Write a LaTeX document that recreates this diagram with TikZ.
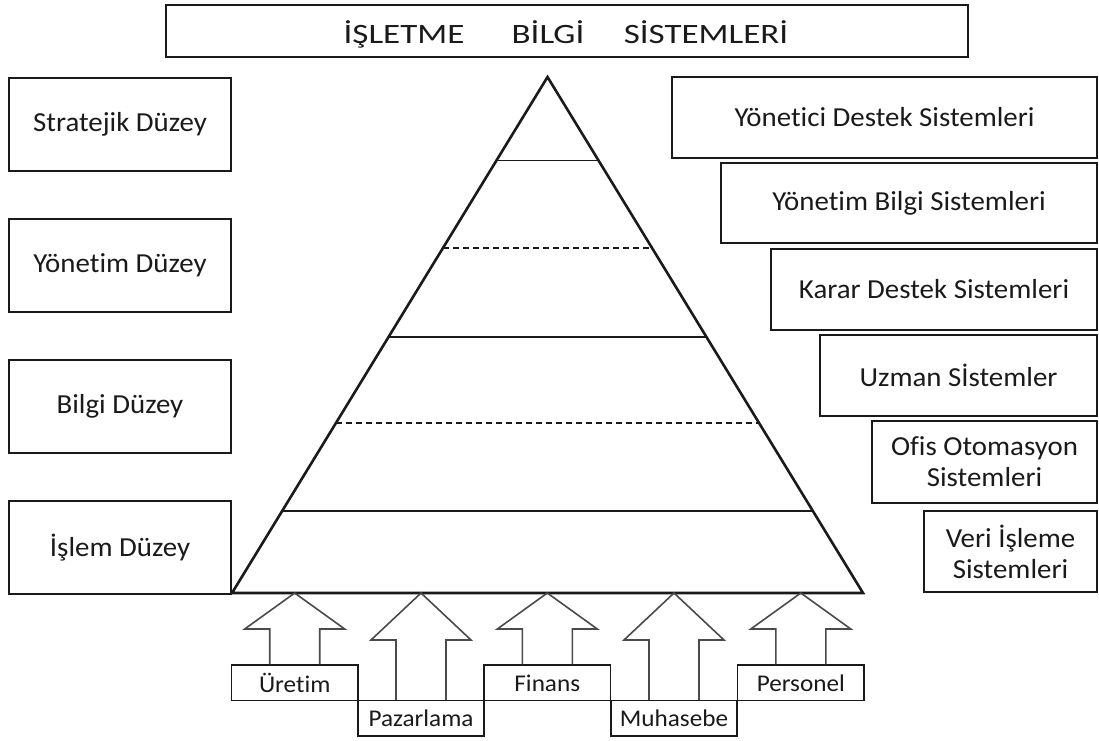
\documentclass[tikz,border=0pt]{standalone}
\usepackage{fontspec}
\setmainfont{Carlito}[FakeStretch=1.05, RawFeature={-liga}]
\newfontfamily\titlefont{Carlito}[FakeStretch=1.25, RawFeature={-liga}]
\usetikzlibrary{calc}

\definecolor{ink}{HTML}{1A1A1A}
\definecolor{arrowgray}{HTML}{4A4A4A}

\tikzset{
  framebox/.style={draw=ink, line width=1.8pt, inner sep=0pt, text=ink,
    align=center, font=\fontsize{27.5}{31}\selectfont},
  deptbox/.style={draw=ink, line width=1.6pt, inner sep=0pt,
    minimum width=126.5pt, minimum height=35.5pt, text=ink,
    font=\fontsize{24}{26}\selectfont},
  titleword/.style={inner sep=0pt, anchor=base, text=ink,
    font=\titlefont\fontsize{28}{32}\selectfont},
  pyramid/.style={draw=ink, line width=2.6pt, line join=miter},
  tiersolid/.style={draw=ink, line width=1.3pt},
  tierdash/.style={draw=ink, line width=1.2pt, dash pattern=on 6pt off 4pt},
  blockarrow/.style={draw=arrowgray, line width=1.6pt, line join=miter},
}

\begin{document}
\begin{tikzpicture}[x=1pt, y=-1pt]
\useasboundingbox (0,0) rectangle (1099,740);

% title
\node[framebox, line width=2.6pt, minimum width=802pt, minimum height=52pt] (title) at (567,31) {};
\node[titleword] (w1) at (404,43) {İŞLETME};
\node[titleword] (w2) at (548,43) {BİLGİ};
\node[titleword] (w3) at (706,43) {SİSTEMLERİ};

% levels on the left
\node[framebox, minimum width=222pt, minimum height=93pt] (strat) at (120,124.5) {Stratejik Düzey};
\node[framebox, minimum width=222pt, minimum height=93pt] (yon)   at (120,265.5) {Yönetim Düzey};
\node[framebox, minimum width=222pt, minimum height=93pt] (bilgi) at (120,406.5) {Bilgi Düzey};
\node[framebox, minimum width=222pt, minimum height=93pt] (islem) at (120,547.5) {İşlem Düzey};

% systems on the right
\node[framebox, minimum width=425pt, minimum height=81pt] (yds) at (884.5,117.5) {Yönetici Destek Sistemleri};
\node[framebox, minimum width=376pt, minimum height=80pt] (ybs) at (909,203)   {Yönetim Bilgi Sistemleri};
\node[framebox, minimum width=326pt, minimum height=81pt] (kds) at (934,289.5) {Karar Destek Sistemleri};
\node[framebox, minimum width=277pt, minimum height=81pt] (uzs) at (958.5,375.5) {Uzman Sİstemler};
\node[framebox, minimum width=225pt, minimum height=82pt] (oos) at (984.5,462)   {Ofis Otomasyon\\Sistemleri};
\node[framebox, minimum width=173pt, minimum height=81pt] (vis) at (1010.5,551.5) {Veri İşleme\\Sistemleri};

% pyramid
\coordinate (apex) at (547.5,77);
\coordinate (bl) at (232,593);
\coordinate (br) at (863,593);
\coordinate (base) at (547.5,593);

\draw[tiersolid] ($(apex)!0.1618!(bl)$) -- ($(apex)!0.1618!(br)$);
\draw[tierdash]  ($(apex)!0.3314!(bl)$) -- ($(apex)!0.3314!(br)$);
\draw[tiersolid] ($(apex)!0.5039!(bl)$) -- ($(apex)!0.5039!(br)$);
\draw[tierdash]  ($(apex)!0.6705!(bl)$) -- ($(apex)!0.6705!(br)$);
\draw[tiersolid] ($(apex)!0.8411!(bl)$) -- ($(apex)!0.8411!(br)$);
\draw[pyramid] (apex) -- (br) -- (bl) -- cycle;

% departments
\node[deptbox] (ur) at (294.7,682.9) {Üretim};
\node[deptbox] (pa) at (421,718.4)   {Pazarlama};
\node[deptbox] (fi) at (547.3,682.9) {Finans};
\node[deptbox] (mu) at (674,718.4)   {Muhasebe};
\node[deptbox] (pe) at (800.8,682.9) {Personel};

% block arrows from each department up to the pyramid base
\foreach \d/\h in {ur/36, fi/36, pe/36, pa/47, mu/47} {
  \draw[blockarrow]
    ($(\d.north)+(-25,0)$)
    -- ($(\d.north|-base)+(-25,\h)$)
    -- ($(\d.north|-base)+(-50,\h)$)
    -- (\d.north|-base)
    -- ($(\d.north|-base)+(50,\h)$)
    -- ($(\d.north|-base)+(25,\h)$)
    -- ($(\d.north)+(25,0)$);
}
\end{tikzpicture}
\end{document}
